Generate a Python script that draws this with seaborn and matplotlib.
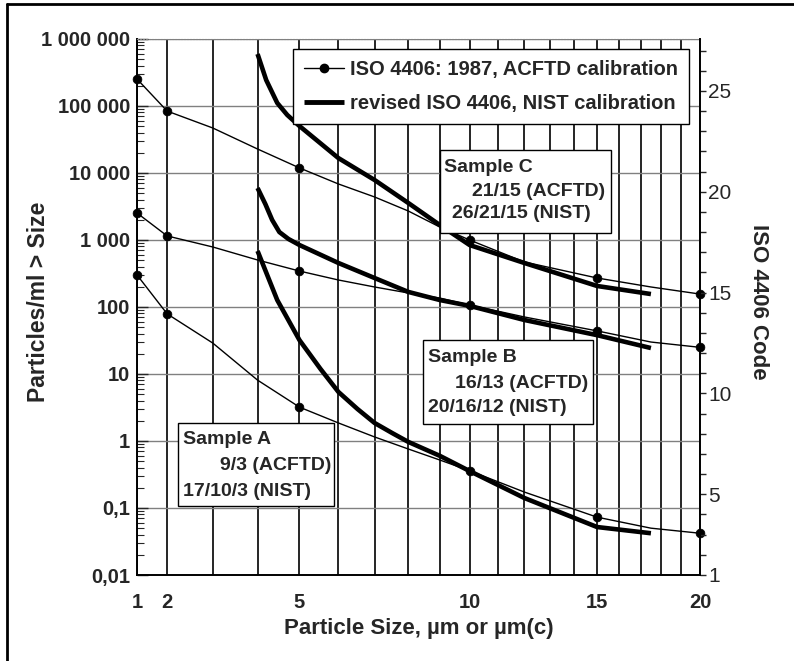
import numpy as np
import seaborn as sns
import matplotlib.pyplot as plt
from matplotlib.patches import Rectangle
from matplotlib.lines import Line2D
from matplotlib.ticker import FixedLocator, LogLocator, NullFormatter

# ISO 4406 particle counts
marker_sizes = [1, 2, 5, 10, 15, 20]
acftd_pts_c = [253000, 84000, 11900, 1000, 271, 156]
acftd_pts_b = [2530, 1150, 344, 107, 44, 25]
acftd_pts_a = [301, 79, 3.2, 0.36, 0.073, 0.042]

# thin curves (ISO 4406:1987, ACFTD)
thin_sizes = [1, 2, 3, 4, 5, 6, 7, 8, 9, 10, 12, 15, 17.5, 20]
acftd_c = [253000, 84000, 47000, 22800, 11900, 6860, 4390, 2710, 1560, 1000, 470, 271, 199, 156]
acftd_b = [2530, 1150, 787, 503, 344, 253, 199, 162, 136, 107, 71, 44, 30, 25]
acftd_a = [301, 79, 29, 8.1, 3.2, 1.86, 1.15, 0.76, 0.52, 0.36, 0.173, 0.073, 0.050, 0.042]

# thick curves (revised ISO 4406, NIST)
nist_sizes_c = [4, 4.2, 4.46, 4.7, 5, 6, 7, 8, 9, 10, 12, 15, 17.5]
nist_c = [597000, 244000, 111000, 73500, 50200, 16700, 7870, 3570, 1670, 841, 454, 206, 156]
nist_sizes_b = [4, 4.18, 4.34, 4.51, 4.73, 5, 6, 7, 8, 9, 10, 12, 15, 17.5]
nist_b = [5970, 3440, 1990, 1315, 1035, 841, 454, 271, 168, 127, 104, 64, 38, 24.4]
nist_sizes_a = [4, 4.46, 5, 5.53, 6, 6.52, 7, 7.52, 8, 9, 10, 12, 15, 17.5]
nist_a = [686, 127, 32, 11.9, 5.4, 3.0, 1.86, 1.31, 0.97, 0.6, 0.356, 0.141, 0.052, 0.042]

y_ticks = [1e-2, 1e-1, 1, 10, 100, 1e3, 1e4, 1e5, 1e6]
y_labels = ["0,01", "0,1", "1", "10", "100", "1 000", "10 000", "100 000", "1 000 000"]
x_ticks = [1, 2, 5, 10, 15, 20]
code_ticks = [1, 5, 10, 15, 20, 25]

legend_labels = ["ISO 4406: 1987, ACFTD calibration", "revised ISO 4406, NIST calibration"]
sample_texts = {
    "A": ["Sample A", "9/3 (ACFTD)", "17/10/3 (NIST)"],
    "B": ["Sample B", "16/13 (ACFTD)", "20/16/12 (NIST)"],
    "C": ["Sample C", "21/15 (ACFTD)", "26/21/15 (NIST)"],
}

sns.set_style("white")
plt.rcParams['font.family'] = ['Liberation Sans', 'DejaVu Sans']

W, H = 794, 661
fig = plt.figure(figsize=(W / 100, H / 100), dpi=100)
ax = fig.add_axes([137 / W, 86 / H, 563 / W, 536 / H])


def fx(px):
    return px / W


def fy(py):
    return 1 - py / H


# thin ACFTD curves + dots
for ys, pts in [(acftd_c, acftd_pts_c), (acftd_b, acftd_pts_b), (acftd_a, acftd_pts_a)]:
    sns.lineplot(x=thin_sizes, y=ys, ax=ax, color='black', lw=1, estimator=None, sort=False)
    sns.scatterplot(x=marker_sizes, y=pts, ax=ax, color='black', s=40, edgecolor='black',
                    zorder=3, clip_on=False)

# thick NIST curves
for xs, ys in [(nist_sizes_c, nist_c), (nist_sizes_b, nist_b), (nist_sizes_a, nist_a)]:
    sns.lineplot(x=xs, y=ys, ax=ax, color='black', lw=3.3, estimator=None, sort=False,
                 solid_capstyle='butt', solid_joinstyle='round')


# x scale of the ISO chart paper: (log d)^2
def fwd(x):
    lx = np.log10(np.clip(x, 1e-9, None))
    return np.sign(lx) * lx ** 2


def inv(y):
    return 10 ** (np.sign(y) * np.sqrt(np.abs(y)))


ax.set_yscale('log')
ax.set_xscale('function', functions=(fwd, inv))
ax.set_xlim(1, 20)
ax.set_ylim(0.01, 1e6)

ax.set_xticks(x_ticks)
ax.set_xticklabels([str(t) for t in x_ticks], fontweight='bold')
ax.xaxis.set_minor_locator(FixedLocator(list(range(1, 21))))
ax.tick_params(axis='x', which='both', length=0, pad=13, labelsize=14.5)

ax.set_yticks(y_ticks)
ax.set_yticklabels(y_labels, fontweight='bold')
ax.yaxis.set_minor_locator(LogLocator(base=10, subs=range(2, 10)))
ax.yaxis.set_minor_formatter(NullFormatter())
ax.tick_params(axis='y', which='major', direction='in', length=8, width=1, labelsize=14.5, pad=5)
ax.tick_params(axis='y', which='minor', direction='in', length=5, width=0.8)

ax.set_axisbelow(True)
ax.xaxis.grid(True, which='both', color='black', lw=1.2)
ax.yaxis.grid(True, which='major', color='0.5', lw=1)

for s in ['left', 'bottom']:
    ax.spines[s].set_color('black')
    ax.spines[s].set_linewidth(1.4)
ax.spines['top'].set_color('0.5')
ax.spines['top'].set_linestyle(':')
ax.spines['right'].set_visible(False)

ax.set_xlabel("Particle Size, µm or µm(c)", fontsize=16, fontweight='bold', va='top')
ax.xaxis.set_label_coords(0.5, -0.08)
ax.set_ylabel("Particles/ml > Size", fontsize=16.5, fontweight='bold')
ax.yaxis.set_label_coords(-0.155, 0.51)

# right axis: ISO 4406 code
ax2 = ax.twinx()
ax2.set_ylim(1, 1 + np.log2(1e6 / 0.01))
ax2.set_yticks(code_ticks)
ax2.yaxis.set_minor_locator(FixedLocator(list(range(1, 28))))
ax2.tick_params(axis='y', which='both', direction='out', length=4, width=1, labelsize=15, pad=2)
ax2.grid(False)
for s in ['top', 'left', 'bottom']:
    ax2.spines[s].set_visible(False)
ax2.spines['right'].set_color('black')
ax2.spines['right'].set_linewidth(1.4)
ax2.set_ylabel("ISO 4406 Code", fontsize=16, fontweight='bold', rotation=270, va='bottom')
ax2.yaxis.set_label_coords(1.085, 0.51)

# legend
handles = [
    Line2D([], [], color='black', lw=1, marker='o', ms=6),
    Line2D([], [], color='black', lw=3.5, solid_capstyle='butt'),
]
leg = ax2.legend(handles, legend_labels, loc='upper right', bbox_to_anchor=(fx(689), fy(49)),
                 bbox_transform=fig.transFigure, frameon=True, fancybox=False, framealpha=1,
                 edgecolor='black', handlelength=2.0, labelspacing=0.72, borderpad=0.55,
                 handletextpad=0.3, borderaxespad=0, prop={'weight': 'bold', 'size': 14.5})
leg.get_frame().set_linewidth(1)

# sample boxes
boxes = {
    "A": ((178, 423, 334, 506), [(183, 440), (220, 465), (183, 491)]),
    "B": ((423, 340, 593, 424), [(428, 358), (455, 383), (428, 408)]),
    "C": ((440, 150, 611, 233), [(444, 167), (472, 192), (452, 213)]),
}
for key, (box, pos) in boxes.items():
    x0, y0, x1, y1 = box
    ax2.add_patch(Rectangle((fx(x0), fy(y1)), fx(x1) - fx(x0), fy(y0) - fy(y1),
                            transform=fig.transFigure, facecolor='white', edgecolor='black',
                            lw=1, zorder=5, clip_on=False))
    for txt, (px, py) in zip(sample_texts[key], pos):
        ax2.text(fx(px), fy(py), txt, transform=fig.transFigure, ha='left', va='center',
                 fontsize=14, fontweight='bold', zorder=6)

# outer frame (left and top edges only)
fig.add_artist(Line2D([fx(7), fx(7)], [0, fy(4)], color='black', lw=2, transform=fig.transFigure))
fig.add_artist(Line2D([fx(7), 1], [fy(4), fy(4)], color='black', lw=2, transform=fig.transFigure))

fig.savefig("out.png", dpi=100)
